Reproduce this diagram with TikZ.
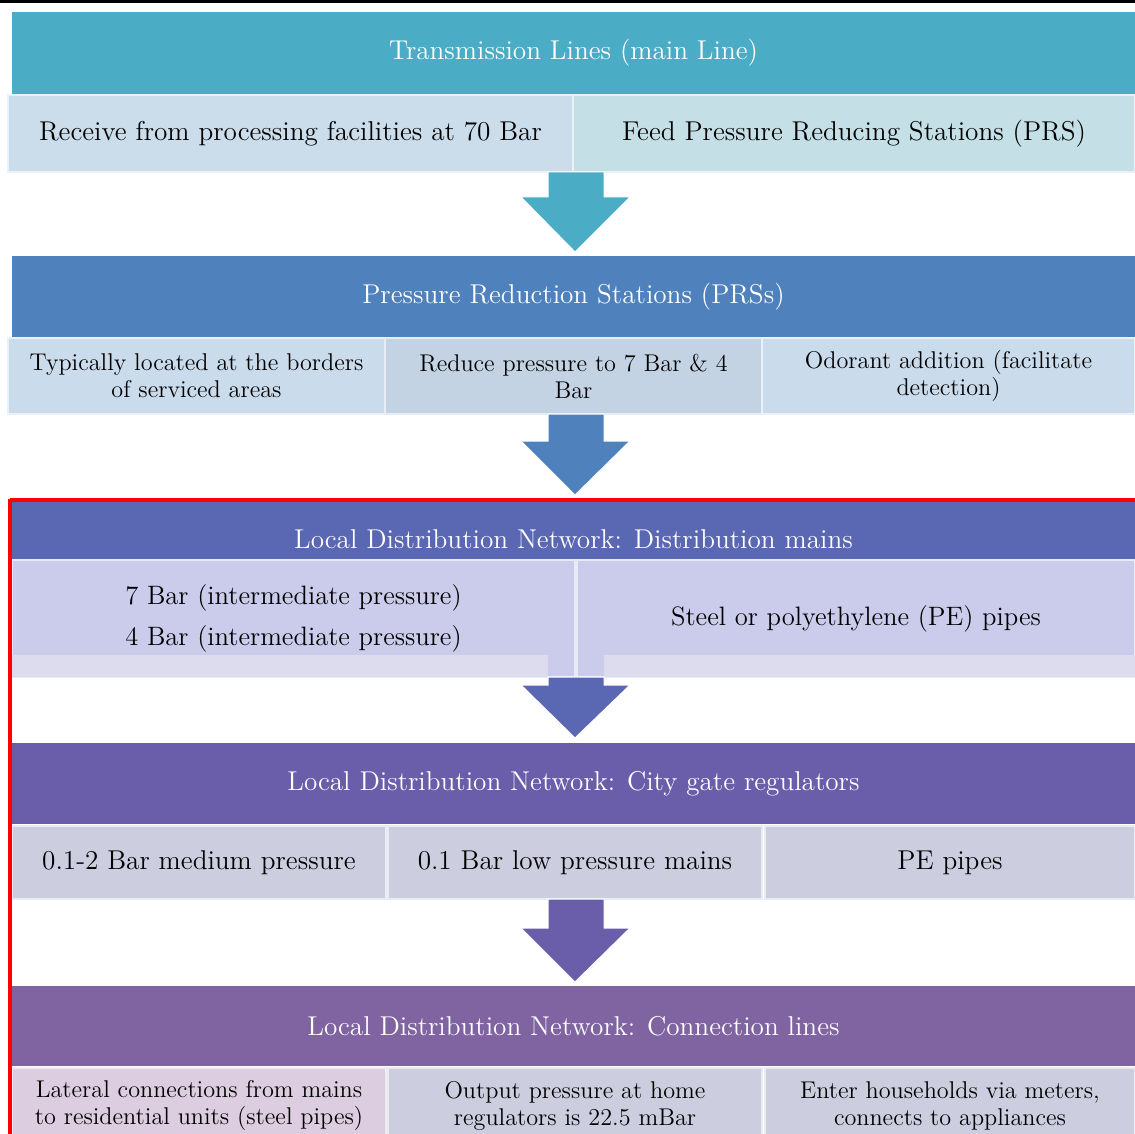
\documentclass[tikz,border=0pt]{standalone}
\definecolor{cTeal}{HTML}{4BACC6}
\definecolor{cTealA}{HTML}{CBDCEB}
\definecolor{cTealB}{HTML}{C5DFE6}
\definecolor{cBlue}{HTML}{4F81BD}
\definecolor{cBlueA}{HTML}{CADBEC}
\definecolor{cBlueB}{HTML}{C3D3E3}
\definecolor{cInd}{HTML}{5A67B3}
\definecolor{cIndA}{HTML}{CBCBEC}
\definecolor{cIndS}{HTML}{DCDCEE}
\definecolor{cVio}{HTML}{6A5DAA}
\definecolor{cVioA}{HTML}{CDCDE0}
\definecolor{cPur}{HTML}{8064A2}
\definecolor{cPurA}{HTML}{DCCDE0}
\definecolor{cRed}{HTML}{FF0000}
% \boxat{name}{x1}{y1}{x2}{y2}{style}{text}  (pixel coordinates)
\newcommand\boxat[7]{\node[#6, minimum width={(#4-#2)*0.5pt}, minimum height={(#5-#3)*0.5pt}] (#1) at ({(#2+#4)/2},{(#3+#5)/2}) {#7};}
\begin{document}
\begin{tikzpicture}[x=0.5pt,y=-0.5pt,
  big/.style={font=\fontsize{13.6}{15}\selectfont},
  small/.style={font=\fontsize{12.1}{13.5}\selectfont},
  band/.style={inner sep=0pt, fill=#1, draw=none, text=white, big},
  cell/.style={inner sep=0pt, fill=#1, draw=white!60!#1, line width=0.8pt, text=black, align=center},
  strip/.style={inner sep=0pt, fill=#1, draw=none},
  blockarrow/.style={fill=#1, draw=white, line width=0.5pt}]
\useasboundingbox (0,0) rectangle (1135,1134);
\clip (0,0) rectangle (1135,1134);
\fill[white] (0,0) rectangle (1135,1134);
% top rule
\draw[black, line width=1.5pt] (0,2) -- (1135,2);

% ---- stage 1
\boxat{b1}{12}{12}{1135}{94}{band=cTeal}{Transmission Lines (main Line)}
\boxat{r1a}{8}{95}{573}{172}{cell=cTealA, big}{Receive from processing facilities at 70 Bar}
\boxat{r1b}{573}{95}{1135}{172}{cell=cTealB, big}{Feed Pressure Reducing Stations (PRS)}
\fill[blockarrow=cTeal] (548,172) -- (604,172) -- (604,197) -- (630,197) -- (575,252) -- (521,197) -- (548,197) -- cycle;

% ---- stage 2
\boxat{b2}{12}{256}{1135}{337}{band=cBlue}{Pressure Reduction Stations (PRSs)}
\boxat{r2a}{8}{338}{385}{414}{cell=cBlueA, small}{Typically located at the borders\\of serviced areas}
\boxat{r2b}{385}{338}{762}{414}{cell=cBlueB, small}{Reduce pressure to 7 Bar \& 4\\Bar}
\boxat{r2c}{762}{338}{1135}{414}{cell=cBlueA, small}{Odorant addition (facilitate\\detection)}
\fill[blockarrow=cBlue] (548,414) -- (604,414) -- (604,441) -- (630,441) -- (575,495) -- (521,441) -- (548,441) -- cycle;

% ---- stage 3
\boxat{b3}{12}{500}{1135}{578}{band=cInd}{Local Distribution Network: Distribution mains}
\boxat{r3a}{12}{560}{575}{677}{cell=cIndA, font=\fontsize{13.3}{20.5}\selectfont}{7 Bar (intermediate pressure)\\4 Bar (intermediate pressure)}
\boxat{r3b}{577}{560}{1135}{677}{cell=cIndA, font=\fontsize{13.3}{15}\selectfont}{Steel or polyethylene (PE) pipes}
\boxat{s3a}{12}{655}{548}{677}{strip=cIndS}{}
\boxat{s3b}{604}{655}{1135}{677}{strip=cIndS}{}
\fill[blockarrow=cInd] (548,677) -- (604,677) -- (604,685) -- (630,685) -- (575,738) -- (521,685) -- (548,685) -- cycle;

% ---- stage 4
\boxat{b4}{12}{743}{1135}{824}{band=cVio}{Local Distribution Network: City gate regulators}
\boxat{r4a}{12}{826}{386}{899}{cell=cVioA, big}{0.1-2 Bar medium pressure}
\boxat{r4b}{388}{826}{762}{899}{cell=cVioA, big}{0.1 Bar low pressure mains}
\boxat{r4c}{765}{826}{1135}{899}{cell=cVioA, big}{PE pipes}
\fill[blockarrow=cVio] (548,899) -- (604,899) -- (604,928) -- (630,928) -- (575,982) -- (521,928) -- (548,928) -- cycle;

% ---- stage 5
\boxat{b5}{12}{986}{1135}{1066}{band=cPur}{Local Distribution Network: Connection lines}
\boxat{r5a}{12}{1068}{386}{1143}{cell=cPurA, small}{Lateral connections from mains\\to residential units (steel pipes)}
\boxat{r5b}{388}{1068}{762}{1143}{cell=cVioA, small}{Output pressure at home\\regulators is 22.5 mBar}
\boxat{r5c}{765}{1068}{1135}{1143}{cell=cVioA, small}{Enter households via meters,\\connects to appliances}

% red frame
\draw[cRed, line width=2pt] (10,500) -- (1150,500);
\draw[cRed, line width=2pt] (10,499) -- (10,1150);
\end{tikzpicture}
\end{document}
